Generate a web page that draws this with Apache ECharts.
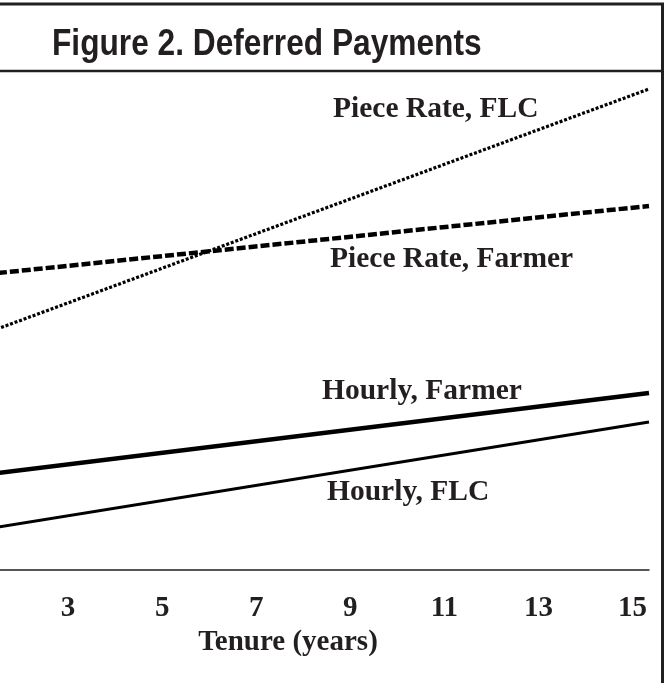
<!DOCTYPE html>
<html>
<head>
<meta charset="utf-8">
<script src="https://cdn.jsdelivr.net/npm/echarts@6/dist/echarts.min.js"></script>
<style>
html,body{margin:0;padding:0;background:#fff;}
#chart{width:665px;height:683px;}
</style>
</head>
<body>
<div id="chart"></div>
<script>
// Data (tenure in years; deferred payment in arbitrary units)
const tenure = [1, 15.35];
const hourlyFarmer = [18.8, 35.4];
const hourlyFLC = [7.8, 29.6];
const pieceFarmer = [58.9, 72.8];
const pieceFLC = [46.5, 96.2];
const tickLabels = [3, 5, 7, 9, 11, 13, 15];
const seriesNames = ['Piece Rate, FLC', 'Piece Rate, Farmer', 'Hourly, Farmer', 'Hourly, FLC'];
const titleText = 'Figure 2. Deferred Payments';
const axisName = 'Tenure (years)';

const pairs = (ys) => tenure.map((t, i) => [t, ys[i]]);
const ink = '#231f20';
const serif = '"Liberation Serif", "Times New Roman", serif';
const labelFont = 'bold 29.5px ' + serif;

const chart = echarts.init(document.getElementById('chart'));
chart.setOption({
  animation: false,
  backgroundColor: '#ffffff',
  grid: {
    left: -73,
    right: 16,
    top: 70,
    bottom: 113,
    outerBoundsMode: 'none',
    containLabel: false
  },
  xAxis: {
    type: 'value',
    min: 0,
    max: 15.35,
    interval: 1,
    name: axisName,
    nameLocation: 'middle',
    nameGap: 58,
    nameTextStyle: { fontFamily: serif, fontWeight: 'bold', fontSize: 29, color: ink },
    axisLine: { show: true, onZero: false, lineStyle: { color: ink, width: 1.5 } },
    axisTick: { show: false },
    splitLine: { show: false },
    axisLabel: {
      margin: 24,
      fontFamily: serif,
      fontWeight: 'bold',
      fontSize: 29,
      color: ink,
      showMinLabel: true,
      showMaxLabel: true,
      formatter: (v) => (tickLabels.indexOf(Math.round(v * 100) / 100) >= 0 ? String(v) : '')
    }
  },
  yAxis: {
    type: 'value',
    min: 0,
    max: 100,
    show: false,
    splitLine: { show: false }
  },
  series: [
    {
      name: seriesNames[0], type: 'line', symbol: 'none', clip: false,
      data: pairs(pieceFLC),
      lineStyle: { color: '#000', width: 3.2, type: [3, 1.8], cap: 'butt' }
    },
    {
      name: seriesNames[1], type: 'line', symbol: 'none', clip: false,
      data: pairs(pieceFarmer),
      lineStyle: { color: '#000', width: 4.5, type: [9, 3], cap: 'butt' }
    },
    {
      name: seriesNames[2], type: 'line', symbol: 'none', clip: false,
      data: pairs(hourlyFarmer),
      lineStyle: { color: '#000', width: 4.5, type: 'solid' }
    },
    {
      name: seriesNames[3], type: 'line', symbol: 'none', clip: false,
      data: pairs(hourlyFLC),
      lineStyle: { color: '#000', width: 3, type: 'solid' }
    }
  ],
  graphic: [
    { type: 'line', shape: { x1: 0, y1: 4, x2: 664, y2: 4 }, style: { stroke: ink, lineWidth: 3 } },
    { type: 'line', shape: { x1: 0, y1: 71, x2: 664, y2: 71 }, style: { stroke: ink, lineWidth: 2.5 } },
    { type: 'line', shape: { x1: 662.5, y1: 3, x2: 662.5, y2: 683 }, style: { stroke: ink, lineWidth: 3 } },
    {
      type: 'text', x: 52, y: 27, scaleX: 0.88,
      style: { text: titleText, font: 'bold 36px "Liberation Sans", Arial, sans-serif', fill: ink, textVerticalAlign: 'top' }
    },
    { type: 'text', left: 333, top: 94, style: { text: seriesNames[0], font: labelFont, fill: ink } },
    { type: 'text', left: 330, top: 244, style: { text: seriesNames[1], font: labelFont, fill: ink } },
    { type: 'text', left: 322, top: 376, style: { text: seriesNames[2], font: labelFont, fill: ink } },
    { type: 'text', left: 327, top: 477, style: { text: seriesNames[3], font: labelFont, fill: ink } }
  ]
});
</script>
</body>
</html>
